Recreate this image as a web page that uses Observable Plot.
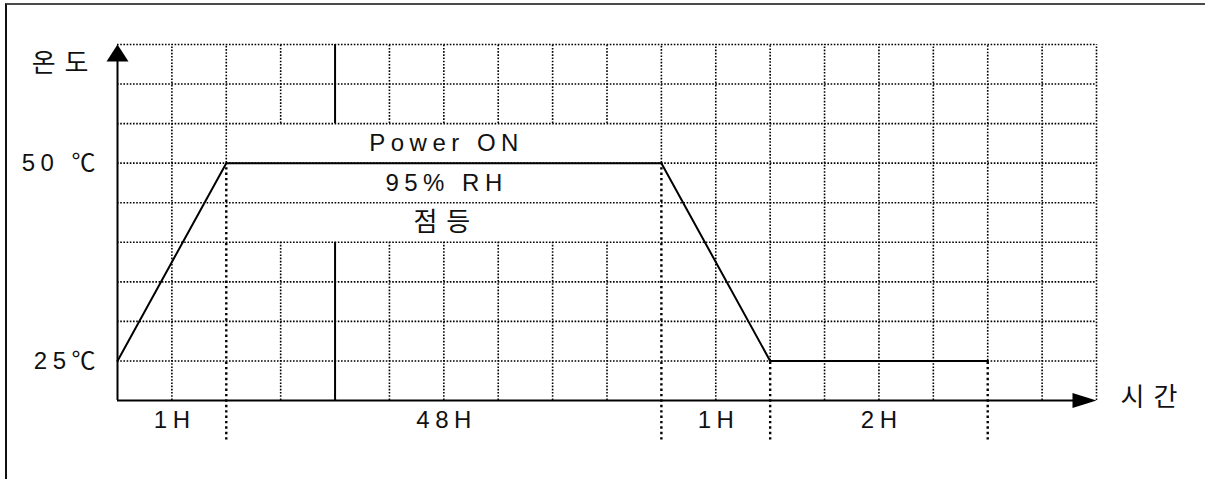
<!DOCTYPE html>
<html>
<head>
<meta charset="utf-8">
<script src="https://cdn.jsdelivr.net/npm/d3@7"></script>
<script src="https://cdn.jsdelivr.net/npm/@observablehq/plot@0.6"></script>
<style>
  html, body { margin: 0; padding: 0; background: #fff; overflow: hidden; }
  #wrap { position: relative; width: 1205px; height: 479px; overflow: hidden; }
  #frame { position: absolute; left: 5px; top: 3px; width: 1300px; height: 600px;
           border-top: 2px solid #4a4a4a; border-left: 2px solid #111; pointer-events: none; }
  #chart svg { display: block; }
</style>
</head>
<body>
<div id="wrap"><div id="chart"></div><div id="frame"></div></div>
<script>
// ---- data ----
const profileCols  = [0, 2, 10, 12, 16];          // grid-column position of profile vertices
const profileTemps = [25, 50, 50, 25, 25];        // temperature (°C)
const phaseBounds     = [2, 10, 12, 16];          // columns of phase boundaries
const phaseBoundTemps = [50, 50, 25, 25];         // temperature where boundary meets profile
const phaseLabels  = ["1H", "48H", "1H", "2H"];
const phaseCenters = [1, 6, 11, 14];
const phaseLabelTemp = 17.5;
const markerBottom = 15;
const tempLabels = ["50 ℃", "25℃"];
const tempLabelValues = [50, 25];
const conditionLabels = ["Power ON", "95% RH", "점등"];
const conditionTemps  = [52.5, 47.5, 42.5];
const conditionCol = 6;
const gridColumns = [1, 2, 3, 4, 5, 6, 7, 8, 9, 10, 11, 12, 13, 14, 15, 16, 17, 18];
const gridTemps = [25, 30, 35, 40, 45, 50, 55, 60, 65];
const textBoxColumns = [3, 4, 5, 6, 7, 8, 9];
const textBoxTemps = [40, 55];
const breakCol = 4;
const yAxisLabel = "온도";
const xAxisLabel = "시간";
const tempMin = 20, tempMax = 65, colMax = 18;

// ---- derived tables ----
const profile = profileCols.map((c, i) => ({c, t: profileTemps[i]}));
const vGrid = [];
const breakSegs = [];
for (const c of gridColumns) {
  if (textBoxColumns.includes(c)) {
    const segs = [[tempMin, textBoxTemps[0]], [textBoxTemps[1], tempMax]];
    for (const [a, b] of segs) (c === breakCol ? breakSegs : vGrid).push({c, a, b});
  } else if (phaseBounds.includes(c)) {
    vGrid.push({c, a: phaseBoundTemps[phaseBounds.indexOf(c)], b: tempMax});
  } else {
    vGrid.push({c, a: tempMin, b: tempMax});
  }
}
const markers = phaseBounds.map((c, i) => ({c, a: markerBottom, b: phaseBoundTemps[i]}));
const phases = phaseLabels.map((l, i) => ({l, c: phaseCenters[i]}));
const tLabels = tempLabels.map((l, i) => ({l, t: tempLabelValues[i]}));
const conds = conditionLabels.map((l, i) => ({l, t: conditionTemps[i]}));

const upArrow = {draw(ctx) { ctx.moveTo(0, 0); ctx.lineTo(-11, 17); ctx.lineTo(11, 17); ctx.closePath(); }};
const rightArrow = {draw(ctx) { ctx.moveTo(0, 0); ctx.lineTo(-24, -7.5); ctx.lineTo(-24, 7.5); ctx.closePath(); }};

const LAT = "Liberation Sans, Noto Sans CJK KR, sans-serif";
const KOR = "Noto Sans CJK KR, sans-serif";
const LS = 5.5, KLS = 9;
const FS = 24, KFS = 26;
const dot = {stroke: "#000", strokeWidth: 1.6, strokeDasharray: "1.6,1.6"};

const chart = Plot.plot({
  width: 1205, height: 479,
  marginLeft: 117, marginRight: 109, marginTop: 44, marginBottom: 79,
  x: {domain: [0, colMax], axis: null},
  y: {domain: [tempMin, tempMax], axis: null},
  style: {background: "transparent", color: "#111"},
  marks: [
    Plot.ruleY(gridTemps, {y: d => d, x1: 0, x2: colMax, ...dot}),
    Plot.ruleX(vGrid, {x: "c", y1: "a", y2: "b", ...dot}),
    Plot.ruleX(markers, {x: "c", y1: "a", y2: "b", stroke: "#000", strokeWidth: 2.4, strokeDasharray: "2.4,3"}),
    Plot.ruleX(breakSegs, {x: "c", y1: "a", y2: "b", stroke: "#000", strokeWidth: 2}),
    Plot.line(profile, {x: "c", y: "t", stroke: "#000", strokeWidth: 2}),
    Plot.ruleX([0], {x: d => d, y1: tempMin, y2: tempMax - 2, stroke: "#000", strokeWidth: 2}),
    Plot.ruleY([tempMin], {y: d => d, x1: 0, x2: colMax - 0.3, stroke: "#000", strokeWidth: 2}),
    Plot.dot([tempMax], {x: 0, y: d => d, symbol: upArrow, fill: "#000", stroke: null}),
    Plot.dot([colMax], {x: d => d, y: tempMin, symbol: rightArrow, fill: "#000", stroke: null}),
    Plot.text(phases, {x: "c", y: phaseLabelTemp, text: "l", fontSize: FS, fontFamily: LAT, textAnchor: "middle", dx: LS / 2, fill: "#111"}),
    Plot.text(tLabels, {x: 0, y: "t", text: "l", fontSize: FS, fontFamily: LAT, textAnchor: "end", dx: -22 + LS, fill: "#111"}),
    Plot.text(conds.filter(d => /[A-Za-z0-9]/.test(d.l)), {x: conditionCol, y: "t", text: "l", fontSize: FS, fontFamily: LAT, textAnchor: "middle", dx: LS / 2, fill: "#111"}),
    Plot.text(conds.filter(d => !/[A-Za-z0-9]/.test(d.l)), {x: conditionCol, y: "t", text: "l", fontSize: KFS, fontFamily: KOR, textAnchor: "middle", dx: KLS / 2 - 2, fill: "#111"}),
    Plot.text([yAxisLabel], {x: 0, y: 62.6, text: d => d, fontSize: KFS, fontFamily: KOR, textAnchor: "end", dx: -29 + KLS, fill: "#111"}),
    Plot.text([xAxisLabel], {x: colMax, y: 20.4, text: d => d, fontSize: KFS, fontFamily: KOR, textAnchor: "start", dx: 24, fill: "#111"})
  ]
});
d3.select(chart).selectAll("text").attr("letter-spacing", LS);
d3.select(chart).selectAll('g[font-family^="Noto"] text, g[font-family^="Noto"]').attr("letter-spacing", KLS);
document.getElementById("chart").append(chart);
</script>
</body>
</html>
